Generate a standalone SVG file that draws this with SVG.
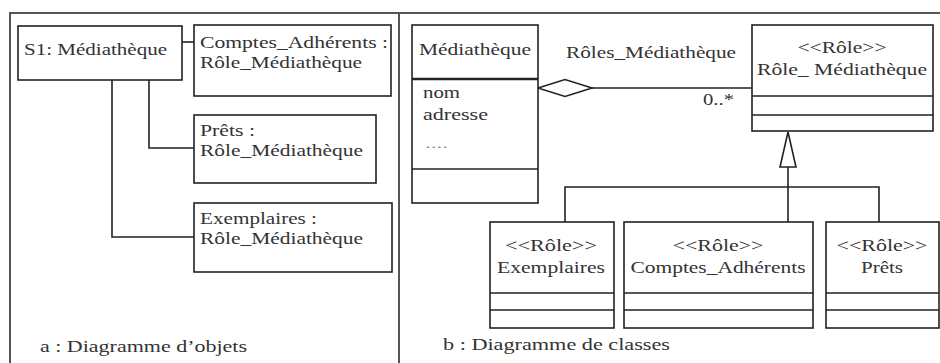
<svg xmlns="http://www.w3.org/2000/svg" width="940" height="363" viewBox="0 0 940 363">
<style>
.box{fill:#fff;stroke:#222;stroke-width:1.6}
.ln{fill:none;stroke:#222;stroke-width:1.6}
.frame{fill:none;stroke:#555;stroke-width:2}
text{font-family:"Liberation Serif","Times New Roman","DejaVu Serif",serif;font-size:16px;fill:#333}
.c{text-anchor:middle}
.dots{font-size:12px;fill:#888}
</style>
<rect width="940" height="363" fill="#fff"/>
<g id="frame">
<path class="frame" d="M10,363 V13 H940 M399,13 V363"/>
</g>
<g id="connectors">
<path class="ln" d="M182,42 H194"/>
<path class="ln" d="M149,80 V148 H194"/>
<path class="ln" d="M112,80 V237 H194"/>
<path class="ln" d="M538,88 L565,79.5 L592,88 L565,96.5 Z"/>
<path class="ln" d="M592,88 H752"/>
<path class="ln" d="M788,132 L796,167 L780,167 Z"/>
<path class="ln" d="M788,167 V222 M565,222 V187 H879 V222"/>
</g>
<g id="s1">
<rect class="box" x="18" y="26" width="164" height="54"/>
<text x="24" y="55" textLength="143" lengthAdjust="spacingAndGlyphs">S1: Médiathèque</text>
</g>
<g id="obj-comptes">
<rect class="box" x="194" y="25" width="197" height="71"/>
<text x="200" y="48" textLength="188" lengthAdjust="spacingAndGlyphs">Comptes_Adhérents :</text>
<text x="200" y="68" textLength="162" lengthAdjust="spacingAndGlyphs">Rôle_Médiathèque</text>
</g>
<g id="obj-prets">
<rect class="box" x="194" y="115" width="182" height="68"/>
<text x="200" y="136" textLength="55" lengthAdjust="spacingAndGlyphs">Prêts :</text>
<text x="200" y="156" textLength="163" lengthAdjust="spacingAndGlyphs">Rôle_Médiathèque</text>
</g>
<g id="obj-exemplaires">
<rect class="box" x="194" y="203" width="198" height="69"/>
<text x="200" y="224" textLength="117" lengthAdjust="spacingAndGlyphs">Exemplaires :</text>
<text x="200" y="244" textLength="163" lengthAdjust="spacingAndGlyphs">Rôle_Médiathèque</text>
</g>
<g id="caption-a">
<text x="40" y="352" textLength="207" lengthAdjust="spacingAndGlyphs">a : Diagramme d’objets</text>
</g>
<g id="cls-mediatheque">
<rect class="box" x="412" y="25" width="126" height="178"/>
<path class="ln" d="M412,79 H538" style="stroke-width:2.4"/>
<path class="ln" d="M412,169 H538"/>
<text x="419" y="55" textLength="112" lengthAdjust="spacingAndGlyphs">Médiathèque</text>
<text x="423" y="98" textLength="37" lengthAdjust="spacingAndGlyphs">nom</text>
<text x="423" y="120" textLength="65" lengthAdjust="spacingAndGlyphs">adresse</text>
<text class="dots" x="425" y="148" textLength="23" lengthAdjust="spacingAndGlyphs">....</text>
</g>
<g id="assoc-labels">
<text x="566" y="58" textLength="170" lengthAdjust="spacingAndGlyphs">Rôles_Médiathèque</text>
<text x="703" y="105" textLength="31" lengthAdjust="spacingAndGlyphs">0..*</text>
</g>
<g id="cls-role">
<rect class="box" x="752" y="25" width="181" height="106"/>
<path class="ln" d="M752,96 H933 M752,115 H933"/>
<text class="c" x="842" y="53" textLength="89" lengthAdjust="spacingAndGlyphs">&lt;&lt;Rôle&gt;&gt;</text>
<text class="c" x="842" y="75" textLength="170" lengthAdjust="spacingAndGlyphs">Rôle_ Médiathèque</text>
</g>
<g id="cls-exemplaires">
<rect class="box" x="490" y="222" width="124" height="106"/>
<path class="ln" d="M490,293 H614 M490,310 H614"/>
<text class="c" x="551" y="251" textLength="92" lengthAdjust="spacingAndGlyphs">&lt;&lt;Rôle&gt;&gt;</text>
<text class="c" x="551" y="273" textLength="108" lengthAdjust="spacingAndGlyphs">Exemplaires</text>
</g>
<g id="cls-comptes">
<rect class="box" x="624" y="222" width="189" height="106"/>
<path class="ln" d="M624,293 H813 M624,310 H813"/>
<text class="c" x="718" y="251" textLength="91" lengthAdjust="spacingAndGlyphs">&lt;&lt;Rôle&gt;&gt;</text>
<text class="c" x="718" y="273" textLength="175" lengthAdjust="spacingAndGlyphs">Comptes_Adhérents</text>
</g>
<g id="cls-prets">
<rect class="box" x="826" y="222" width="113" height="106"/>
<path class="ln" d="M826,293 H939 M826,310 H939"/>
<text class="c" x="882" y="251" textLength="91" lengthAdjust="spacingAndGlyphs">&lt;&lt;Rôle&gt;&gt;</text>
<text class="c" x="882" y="273" textLength="42" lengthAdjust="spacingAndGlyphs">Prêts</text>
</g>
<g id="caption-b">
<text x="443" y="350" textLength="227" lengthAdjust="spacingAndGlyphs">b : Diagramme de classes</text>
</g>
</svg>
